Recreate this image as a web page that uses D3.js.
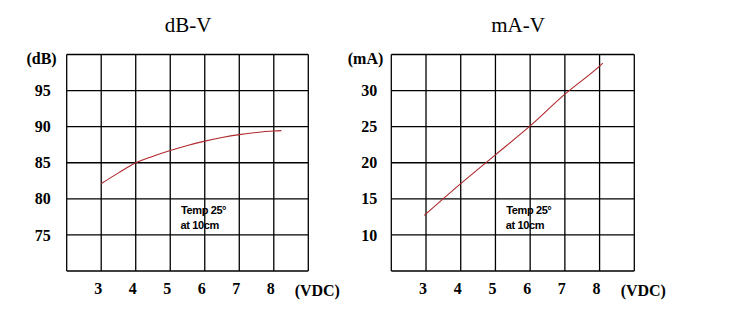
<!DOCTYPE html>
<html>
<head>
<meta charset="utf-8">
<script src="https://cdn.jsdelivr.net/npm/d3@7"></script>
<style>
  html, body { margin: 0; padding: 0; background: #fff; }
  svg { display: block; }
  .serif { font-family: "Liberation Serif", "Times New Roman", "DejaVu Serif", serif; }
  .sans { font-family: "Liberation Sans", Arial, sans-serif; }
</style>
</head>
<body>
<svg id="chart" width="732" height="322"></svg>
<script>
// Supply voltage (VDC) sample points and measured responses
const dbVolts   = [3, 3.5, 4, 4.5, 5, 5.5, 6, 6.5, 7, 7.5, 8, 8.22];
const dbLevels  = [82.1, 83.6, 85.0, 85.9, 86.7, 87.4, 88.0, 88.5, 88.9, 89.2, 89.4, 89.45];
const maVolts   = [2.95, 4, 5, 6, 7, 8, 8.09];
const maCurrent = [12.7, 17.1, 21.1, 25.1, 29.5, 33.4, 33.8];

// Axis ticks and labels
const voltTicks   = [3, 4, 5, 6, 7, 8];
const voltGrid    = [2, 3, 4, 5, 6, 7, 8, 9];
const dbTicks     = [75, 80, 85, 90, 95];
const dbGrid      = [70, 75, 80, 85, 90, 95, 100];
const maTicks     = [10, 15, 20, 25, 30];
const maGrid      = [5, 10, 15, 20, 25, 30, 35];
const titles      = ["dB-V", "mA-V"];
const yUnits      = ["(dB)", "(mA)"];
const xUnit       = "(VDC)";
const noteLines   = ["Temp 25\u00b0", "at 10cm"];

const svg = d3.select("#chart");

function panel(opts) {
  const x = d3.scaleLinear().domain([2, 9]).range([opts.left, opts.right]);
  const y = d3.scaleLinear().domain(opts.yDomain).range([271, 54.5]);
  const g = svg.append("g");

  // title
  g.append("text")
    .attr("class", "serif")
    .attr("x", opts.titleX).attr("y", 32)
    .attr("text-anchor", "middle")
    .style("font-size", "21px")
    .text(opts.title);

  // grid
  g.append("g").selectAll("line").data(voltGrid).join("line")
    .attr("x1", d => x(d)).attr("x2", d => x(d))
    .attr("y1", y.range()[0]).attr("y2", y.range()[1])
    .attr("stroke", "#000").attr("stroke-width", 1.3);
  g.append("g").selectAll("line").data(opts.yGrid).join("line")
    .attr("y1", d => y(d)).attr("y2", d => y(d))
    .attr("x1", x.range()[0]).attr("x2", x.range()[1])
    .attr("stroke", "#000").attr("stroke-width", 1.3);

  // y tick labels
  const yAxis = d3.axisLeft(y).tickValues(opts.yTicks).tickFormat(d3.format("d"))
    .tickSize(0).tickPadding(opts.yPad);
  const ya = g.append("g").attr("transform", `translate(${opts.left},0)`).call(yAxis);
  ya.attr("font-family", null).attr("font-size", null);
  ya.select(".domain").remove();
  ya.selectAll("text")
    .attr("class", "serif")
    .style("font-size", "16px").style("font-weight", "bold")
    .attr("fill", "#000");

  // y unit
  g.append("text")
    .attr("class", "serif")
    .attr("x", opts.left - opts.unitPad).attr("y", y(opts.yDomain[1]) + 4)
    .attr("dy", "0.32em")
    .attr("text-anchor", "end")
    .style("font-size", "16px").style("font-weight", "bold")
    .text(opts.unit);

  // x tick labels
  const xAxis = d3.axisBottom(x).tickValues(voltTicks).tickFormat(d3.format("d"))
    .tickSize(0).tickPadding(12);
  const xa = g.append("g").attr("transform", `translate(-3.5,271)`).call(xAxis);
  xa.attr("font-family", null).attr("font-size", null);
  xa.select(".domain").remove();
  xa.selectAll("text")
    .attr("class", "serif")
    .style("font-size", "16px").style("font-weight", "bold")
    .attr("fill", "#000");

  // x unit
  g.append("text")
    .attr("class", "serif")
    .attr("x", x(9) + 9).attr("y", 296)
    .attr("text-anchor", "middle")
    .style("font-size", "16px").style("font-weight", "bold")
    .text(xUnit);

  // response curve
  const line = d3.line().x(d => x(d[0])).y(d => y(d[1])).curve(opts.curve);
  g.append("path")
    .datum(d3.zip(opts.xs, opts.ys))
    .attr("d", line)
    .attr("fill", "none")
    .attr("stroke", "#b0282c")
    .attr("stroke-width", 1.1);

  // test condition note
  const note = g.append("text")
    .attr("class", "sans")
    .attr("x", x(5.3)).attr("y", 214)
    .style("font-size", "11px").style("font-weight", "bold")
    .style("letter-spacing", "-0.4px");
  note.selectAll("tspan").data(noteLines).join("tspan")
    .attr("x", (d, i) => x(5.3) + (i ? 0 : 0.5))
    .attr("dy", (d, i) => i ? 15 : 0)
    .text(d => d);
}

panel({
  left: 66.7, right: 308.3, yDomain: [70, 100], yGrid: dbGrid, yTicks: dbTicks,
  yPad: 16, unitPad: 10, title: titles[0], titleX: 188, unit: yUnits[0],
  xs: dbVolts, ys: dbLevels, curve: d3.curveMonotoneX
});
panel({
  left: 391.3, right: 634.3, yDomain: [5, 35], yGrid: maGrid, yTicks: maTicks,
  yPad: 14, unitPad: 8, title: titles[1], titleX: 518, unit: yUnits[1],
  xs: maVolts, ys: maCurrent, curve: d3.curveMonotoneX
});
</script>
</body>
</html>
